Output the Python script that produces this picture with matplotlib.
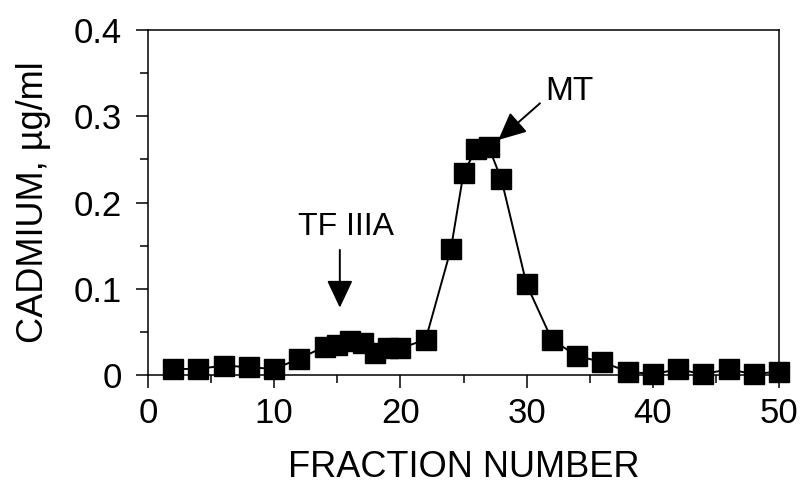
import matplotlib
matplotlib.use("Agg")
import matplotlib.pyplot as plt
from matplotlib.ticker import MultipleLocator

fraction = [2, 4, 6, 8, 10, 12, 14, 15, 16, 17, 18, 19, 20, 22, 24, 25, 26, 27, 28,
            30, 32, 34, 36, 38, 40, 42, 44, 46, 48, 50]
cadmium = [0.007, 0.007, 0.011, 0.009, 0.007, 0.019, 0.033, 0.035, 0.039, 0.037,
           0.025, 0.031, 0.031, 0.041, 0.146, 0.234, 0.262, 0.264, 0.227,
           0.105, 0.041, 0.022, 0.015, 0.004, 0.001, 0.0066, 0.001, 0.0066, 0.001, 0.004]

xticks = [0, 10, 20, 30, 40, 50]
yticks = [0, 0.1, 0.2, 0.3, 0.4]
ytick_labels = ["0", "0.1", "0.2", "0.3", "0.4"]

plt.rcParams['font.family'] = ['Liberation Sans', 'DejaVu Sans']

fig = plt.figure(figsize=(8.01, 4.91), dpi=100)
ax = fig.add_axes([148/801, 1-375/491, (779-148)/801, (375-30)/491])

ax.plot(fraction, cadmium, color='black', lw=1.4, marker='s', markersize=15,
        markerfacecolor='black', markeredgecolor='black', clip_on=False, zorder=3)

ax.set_xlim(0, 50)
ax.set_ylim(0, 0.4)
ax.set_xticks(xticks)
ax.set_yticks(yticks)
ax.set_yticklabels(ytick_labels)
ax.xaxis.set_minor_locator(MultipleLocator(5))
ax.yaxis.set_minor_locator(MultipleLocator(0.05))
ax.tick_params(which='both', direction='out', top=False, right=False,
               width=1.1, labelsize=25, colors='black')
ax.tick_params(which='major', length=9)
ax.tick_params(axis='x', which='major', pad=7)
ax.tick_params(axis='y', which='major', pad=10)
ax.tick_params(which='minor', length=6)
for s in ax.spines.values():
    s.set_linewidth(1.1)

ax.set_xlabel("FRACTION NUMBER", fontsize=26, labelpad=14)
ax.set_ylabel("CADMIUM, µg/ml", fontsize=26, labelpad=16)

ax.annotate("", xy=(15.2, 0.078), xytext=(15.2, 0.145),
            arrowprops=dict(arrowstyle='-|>,head_length=1.7,head_width=0.8',
                            color='black', lw=1.4, shrinkA=0, shrinkB=0))
ax.text(15.65, 0.172, "TF IIIA", fontsize=23, ha='center', va='center')

ax.annotate("", xy=(27.76, 0.2725), xytext=(31.06, 0.315),
            arrowprops=dict(arrowstyle='-|>,head_length=1.7,head_width=0.8',
                            color='black', lw=1.4, shrinkA=0, shrinkB=0))
ax.text(33.4, 0.329, "MT", fontsize=24, ha='center', va='center')

fig.savefig("out.png", dpi=100)
